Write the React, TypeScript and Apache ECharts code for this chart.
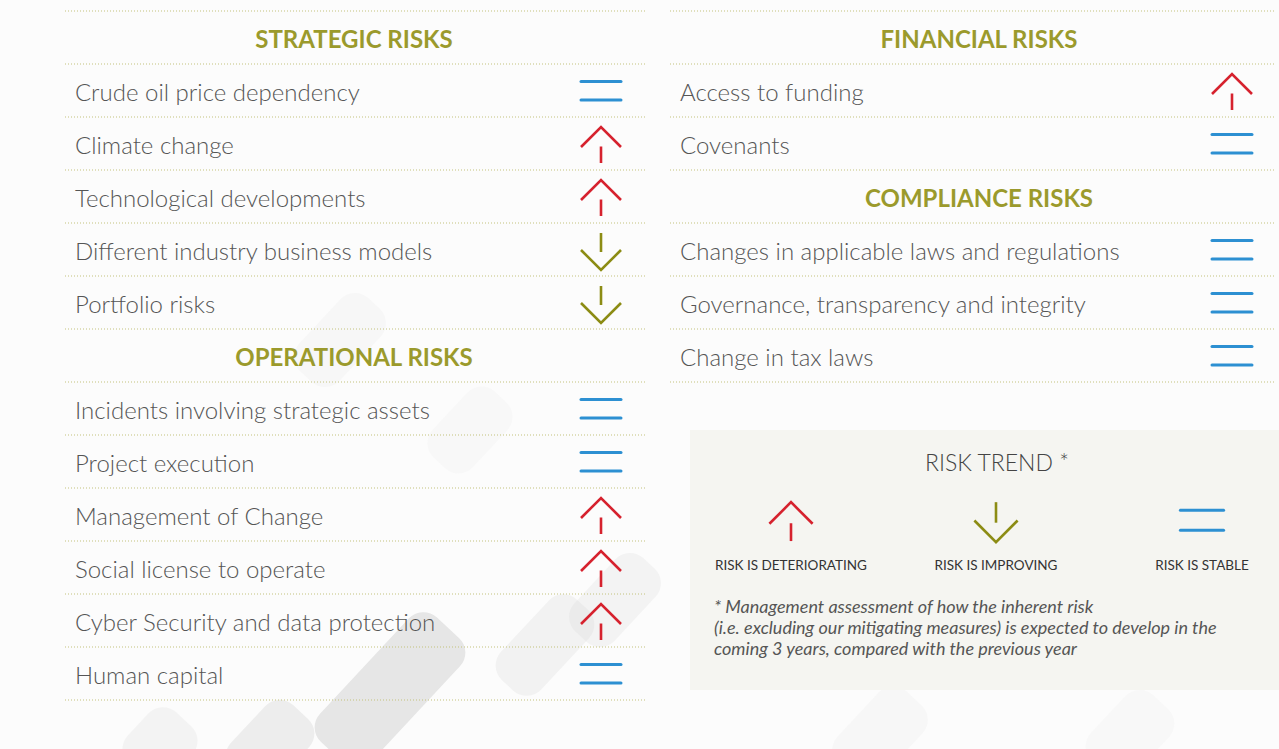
import React, { useEffect, useRef } from "react";
import * as echarts from "echarts";

// ---------- data ----------
const strategicTitle = "STRATEGIC RISKS";
const strategicRisks = [
  "Crude oil price dependency",
  "Climate change",
  "Technological developments",
  "Different industry business models",
  "Portfolio risks",
];
const strategicTrends = ["stable", "up", "up", "down", "down"];

const operationalTitle = "OPERATIONAL RISKS";
const operationalRisks = [
  "Incidents involving strategic assets",
  "Project execution",
  "Management of Change",
  "Social license to operate",
  "Cyber Security and data protection",
  "Human capital",
];
const operationalTrends = ["stable", "stable", "up", "up", "up", "stable"];

const financialTitle = "FINANCIAL RISKS";
const financialRisks = ["Access to funding", "Covenants"];
const financialTrends = ["up", "stable"];

const complianceTitle = "COMPLIANCE RISKS";
const complianceRisks = [
  "Changes in applicable laws and regulations",
  "Governance, transparency and integrity",
  "Change in tax laws",
];
const complianceTrends = ["stable", "stable", "stable"];

const legendTitle = "RISK TREND *";
const legendKinds = ["up", "down", "stable"];
const legendLabels = ["RISK IS DETERIORATING", "RISK IS IMPROVING", "RISK IS STABLE"];
const footnoteLines = [
  "* Management assessment of how the inherent risk",
  "(i.e. excluding our mitigating measures) is expected to develop in the",
  "coming 3 years, compared with the previous year",
];

// ---------- styles ----------
const FONT = "Lato, 'Noto Sans', sans-serif";
const RED = "#d6222e";
const OLIVE = "#8c8c14";
const BLUE = "#2d90d2";
const HEAD = "#9b9a2c";
const TEXT = "#555555";
const DOT = "#c3c27c";

function icon(kind: string, cx: number, cy: number, s: number) {
  const lw = 2.6;
  if (kind === "up") {
    return [
      {
        type: "polyline",
        shape: { points: [[cx - 20 * s, cy + 3.5 * s], [cx, cy - 16.5 * s], [cx + 20 * s, cy + 3.5 * s]] },
        style: { stroke: RED, lineWidth: lw, fill: null },
      },
      {
        type: "line",
        shape: { x1: cx, y1: cy + 3 * s, x2: cx, y2: cy + 19.5 * s },
        style: { stroke: RED, lineWidth: lw },
      },
    ];
  }
  if (kind === "down") {
    return [
      {
        type: "line",
        shape: { x1: cx, y1: cy - 16.5 * s, x2: cx, y2: cy + 2.5 * s },
        style: { stroke: OLIVE, lineWidth: lw },
      },
      {
        type: "polyline",
        shape: { points: [[cx - 20 * s, cy + 0.5 * s], [cx, cy + 20.5 * s], [cx + 20 * s, cy + 0.5 * s]] },
        style: { stroke: OLIVE, lineWidth: lw, fill: null },
      },
    ];
  }
  return [
    {
      type: "line",
      shape: { x1: cx - 20 * s, y1: cy - 9 * s, x2: cx + 20 * s, y2: cy - 9 * s },
      style: { stroke: BLUE, lineWidth: 3, lineCap: "round" },
    },
    {
      type: "line",
      shape: { x1: cx - 20 * s, y1: cy + 9.5 * s, x2: cx + 20 * s, y2: cy + 9.5 * s },
      style: { stroke: BLUE, lineWidth: 3, lineCap: "round" },
    },
  ];
}

function makeRenderer(labels: string[], kinds: string[], headShift: number) {
  return (params: any, api: any) => {
    const i = api.value(1);
    const p0 = api.coord([0, i]);
    const p1 = api.coord([1, i]);
    const band = api.size([0, 1])[1];
    const x0 = p0[0];
    const x1 = p1[0];
    const yc = p0[1];
    const children: any[] = [];
    const dotted = (y: number) => ({
      type: "line",
      shape: { x1: x0, y1: y, x2: x1, y2: y },
      style: { stroke: DOT, lineWidth: 1, lineDash: [1, 2] },
    });
    if (i === 0) children.push(dotted(yc - band / 2));
    children.push(dotted(yc + band / 2));
    if (kinds[i] === "heading") {
      children.push({
        type: "text",
        style: {
          text: labels[i],
          x: (x0 + x1) / 2 + headShift,
          y: yc + 1,
          fill: HEAD,
          fontFamily: FONT,
          fontWeight: "bold",
          fontSize: 24,
          align: "center",
          verticalAlign: "middle",
        },
      });
    } else {
      children.push({
        type: "text",
        style: {
          text: labels[i],
          x: x0 + 10,
          y: yc + 1,
          fill: TEXT,
          fontFamily: FONT,
          fontWeight: 300,
          fontSize: 24,
          align: "left",
          verticalAlign: "middle",
        },
      });
      children.push(...icon(kinds[i], x1 - 44, yc, 1));
    }
    return { type: "group", children };
  };
}

const leftLabels = [strategicTitle, ...strategicRisks, operationalTitle, ...operationalRisks];
const leftKinds = ["heading", ...strategicTrends, "heading", ...operationalTrends];
const rightLabels = [financialTitle, ...financialRisks, complianceTitle, ...complianceRisks];
const rightKinds = ["heading", ...financialTrends, "heading", ...complianceTrends];

// decorative faint mosaic tiles: [cx, cy, w, h, rotation, opacity]
const tiles = [
  [390, 690, 70, 170, -0.75, 0.5],
  [545, 645, 55, 110, -0.75, 0.22],
  [615, 600, 55, 100, -0.75, 0.2],
  [270, 745, 60, 90, -0.75, 0.35],
  [160, 745, 60, 70, -0.75, 0.2],
  [340, 340, 55, 100, -0.75, 0.1],
  [470, 430, 55, 90, -0.75, 0.08],
  [880, 735, 60, 100, -0.75, 0.1],
  [1130, 735, 60, 90, -0.75, 0.08],
];

export default function App() {
  const ref = useRef<HTMLDivElement>(null);
  useEffect(() => {
    if (!ref.current) return;
    const chart = echarts.init(ref.current, undefined, { renderer: "svg" });

    const graphics: any[] = [];
    tiles.forEach(([cx, cy, w, h, rot, op]) => {
      graphics.push({
        type: "rect",
        x: cx,
        y: cy,
        rotation: rot,
        z: -10,
        shape: { x: -w / 2, y: -h / 2, width: w, height: h, r: 20 },
        style: { fill: "#d0d0d0", opacity: op },
        silent: true,
      });
    });
    graphics.push({
      type: "rect",
      x: 690,
      y: 430,
      z: -5,
      shape: { width: 600, height: 260 },
      style: { fill: "#f5f5f0", opacity: 0.96 },
    });
    graphics.push({
      type: "text",
      x: 997,
      y: 462,
      style: {
        text: legendTitle,
        fill: "#444",
        fontFamily: FONT,
        fontWeight: 300,
        fontSize: 23,
        align: "center",
        verticalAlign: "middle",
      },
    });
    const legendX = [791, 996, 1202];
    legendKinds.forEach((k, j) => {
      graphics.push({ type: "group", children: icon(k, legendX[j], 520, 1.08) });
      graphics.push({
        type: "text",
        x: legendX[j],
        y: 565,
        style: {
          text: legendLabels[j],
          fill: "#333",
          fontFamily: FONT,
          fontSize: 13.5,
          align: "center",
          verticalAlign: "middle",
        },
      });
    });
    footnoteLines.forEach((t, j) => {
      graphics.push({
        type: "text",
        x: 714,
        y: 606 + j * 21,
        style: {
          text: t,
          fill: TEXT,
          fontFamily: FONT,
          fontStyle: "italic",
          fontSize: 18,
          align: "left",
          verticalAlign: "middle",
        },
      });
    });

    chart.setOption({
      animation: false,
      backgroundColor: "#fcfcfc",
      grid: [
        { left: 65, top: 11, width: 580, height: 689 },
        { left: 670, top: 11, width: 606, height: 371 },
      ],
      xAxis: [
        { type: "value", min: 0, max: 1, show: false, gridIndex: 0 },
        { type: "value", min: 0, max: 1, show: false, gridIndex: 1 },
      ],
      yAxis: [
        { type: "category", data: leftLabels, inverse: true, show: false, gridIndex: 0 },
        { type: "category", data: rightLabels, inverse: true, show: false, gridIndex: 1 },
      ],
      graphic: graphics,
      series: [
        {
          type: "custom",
          xAxisIndex: 0,
          yAxisIndex: 0,
          clip: false,
          encode: { x: 0, y: 1 },
          data: leftLabels.map((_, i) => [0, i]),
          renderItem: makeRenderer(leftLabels, leftKinds, -1),
          silent: true,
        },
        {
          type: "custom",
          xAxisIndex: 1,
          yAxisIndex: 1,
          clip: false,
          encode: { x: 0, y: 1 },
          data: rightLabels.map((_, i) => [0, i]),
          renderItem: makeRenderer(rightLabels, rightKinds, 6),
          silent: true,
        },
      ],
    });
    return () => chart.dispose();
  }, []);
  return (
    <div
      ref={ref}
      style={{ position: "absolute", left: 0, top: 0, width: 1279, height: 749 }}
    />
  );
}
